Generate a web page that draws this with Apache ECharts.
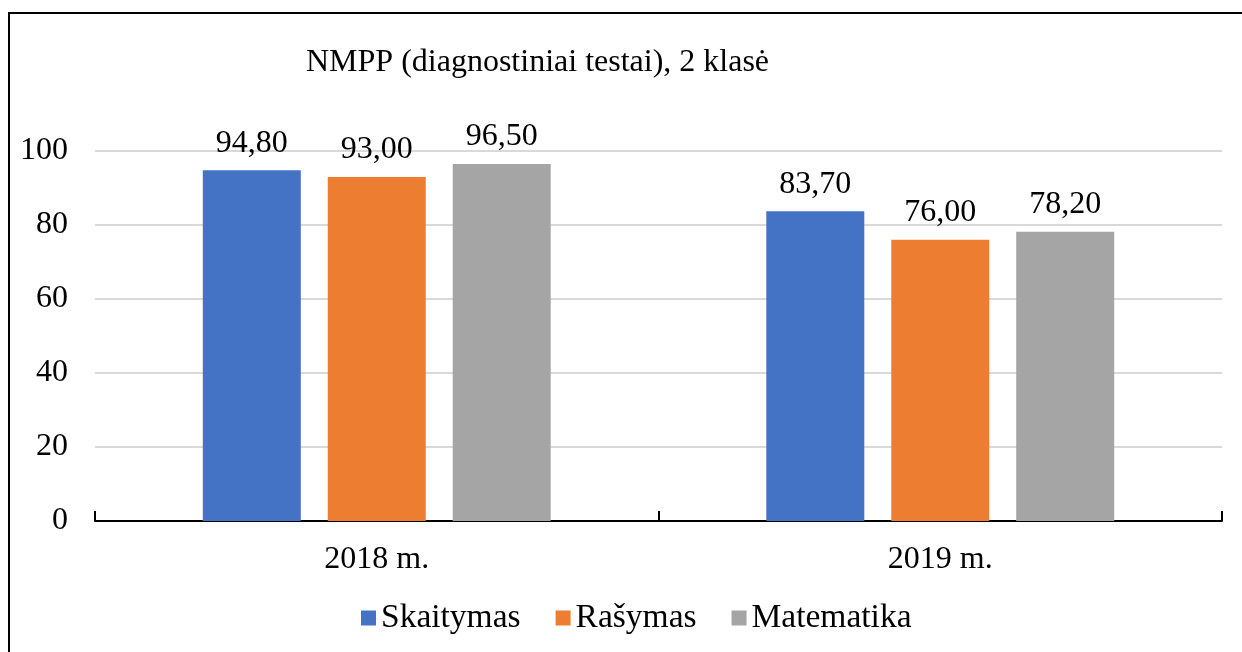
<!DOCTYPE html>
<html>
<head>
<meta charset="utf-8">
<script src="https://cdn.jsdelivr.net/npm/echarts@6/dist/echarts.min.js"></script>
<style>
  html, body { margin: 0; padding: 0; background: #fff; }
  #main { width: 1242px; height: 652px; }
</style>
</head>
<body>
<div id="main"></div>
<script>
// duomenys
var categories = ['2018 m.', '2019 m.']
var skaitymas = [94.8, 83.7]
var rasymas = [93.0, 76.0]
var matematika = [96.5, 78.2]
var seriesNames = ['Skaitymas', 'Rašymas', 'Matematika']
var colors = ['#4472C4', '#ED7D31', '#A5A5A5']

var font = '"Liberation Serif", "Times New Roman", serif'

var myChart = echarts.init(document.getElementById('main'))

function makeSeries(name, data, color) {
  return {
    name: name,
    type: 'bar',
    data: data,
    barWidth: 98,
    barGap: '27.5%',
    itemStyle: { color: color },
    label: {
      show: true,
      position: 'top',
      distance: 11,
      color: '#000',
      fontFamily: font,
      fontSize: 32,
      formatter: function (p) {
        return p.value.toFixed(2).replace('.', ',')
      }
    }
  }
}

var options = {
  animation: false,
  backgroundColor: '#fff',
  color: colors,
  textStyle: { fontFamily: font },
  title: {
    text: 'NMPP (diagnostiniai testai), 2 klasė',
    left: 301,
    top: 42,
    textStyle: {
      fontFamily: font,
      fontSize: 32,
      fontWeight: 'normal',
      color: '#000'
    }
  },
  legend: {
    data: seriesNames,
    bottom: 12,
    left: 356,
    icon: 'rect',
    itemWidth: 15,
    itemHeight: 15,
    itemGap: 35,
    textStyle: {
      fontFamily: font,
      fontSize: 33.5,
      color: '#000'
    }
  },
  grid: {
    left: 95,
    right: 20,
    top: 151,
    bottom: 131,
    containLabel: false
  },
  xAxis: {
    type: 'category',
    data: categories,
    axisLine: { lineStyle: { color: '#000', width: 2 } },
    axisTick: { show: true, inside: true, length: 10, lineStyle: { color: '#000', width: 2 } },
    axisLabel: { color: '#000', fontFamily: font, fontSize: 32, margin: 23 }
  },
  yAxis: {
    type: 'value',
    min: 0,
    max: 100,
    interval: 20,
    axisLine: { show: false },
    axisTick: { show: false },
    splitLine: { lineStyle: { color: '#D9D9D9', width: 2 } },
    axisLabel: { color: '#000', fontFamily: font, fontSize: 32, margin: 27 }
  },
  graphic: [
    {
      type: 'polyline',
      shape: { points: [[9, 652], [9, 13], [1242, 13]] },
      style: { stroke: '#000', lineWidth: 2, fill: null }
    }
  ],
  series: [
    makeSeries(seriesNames[0], skaitymas, colors[0]),
    makeSeries(seriesNames[1], rasymas, colors[1]),
    makeSeries(seriesNames[2], matematika, colors[2])
  ]
}

myChart.setOption(options)
</script>
</body>
</html>
